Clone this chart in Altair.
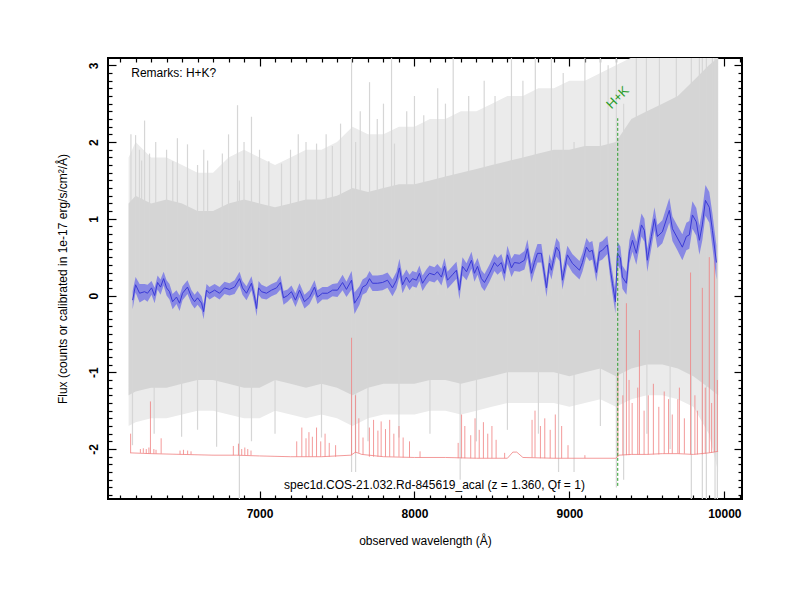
import altair as alt
import pandas as pd

# ---------------- data ----------------
# smoothed object spectrum (blue)
blue_wl = [6181, 6200, 6226, 6258, 6277, 6303, 6323, 6342, 6361, 6381, 6400, 6419, 6439, 6464, 6484,
           6503, 6535, 6561, 6581, 6600, 6626, 6639, 6658, 6677, 6710, 6742, 6774, 6806, 6839, 6871,
           6890, 6916, 6948, 6968, 6981, 6994, 7013, 7045, 7077, 7110, 7135, 7155, 7181, 7206, 7232,
           7258, 7290, 7323, 7355, 7374, 7406, 7439, 7471, 7503, 7536, 7561, 7594, 7613, 7645, 7665,
           7690, 7710, 7729, 7761, 7794, 7826, 7858, 7884, 7903, 7923, 7948, 7968, 7987, 8013, 8032,
           8052, 8077, 8097, 8129, 8148, 8174, 8194, 8213, 8245, 8271, 8290, 8310, 8336, 8368, 8387,
           8407, 8432, 8452, 8484, 8516, 8536, 8561, 8581, 8600, 8626, 8645, 8678, 8710, 8729, 8755,
           8774, 8794, 8819, 8852, 8871, 8884, 8897, 8916, 8936, 8955, 8987, 9019, 9065, 9084, 9110,
           9129, 9148, 9174, 9194, 9213, 9245, 9265, 9278, 9297, 9310, 9329, 9342, 9368, 9387, 9407,
           9432, 9465, 9484, 9503, 9529, 9549, 9568, 9600, 9645, 9665, 9697, 9729, 9755, 9774, 9794,
           9819, 9839, 9858, 9878, 9903, 9923, 9949]
blue_flux = [-0.06, 0.14, 0.03, 0.05, 0.03, 0.10, 0.00, 0.17, 0.11, 0.22, 0.10, 0.05, -0.08, -0.02, -0.10,
             0.03, 0.11, -0.02, -0.08, -0.03, -0.10, -0.21, 0.07, 0.03, 0.07, 0.03, 0.10, 0.08, 0.11, 0.22,
             0.10, 0.03, 0.16, -0.02, -0.17, 0.10, 0.05, 0.03, 0.07, 0.10, 0.17, -0.03, 0.00, 0.05, -0.06,
             0.07, -0.08, -0.02, 0.11, -0.02, 0.03, 0.03, 0.07, 0.07, 0.17, 0.08, 0.20, -0.10, 0.00, 0.11,
             0.14, 0.22, 0.16, 0.16, 0.17, 0.20, 0.10, 0.20, 0.36, 0.14, 0.24, 0.17, 0.22, 0.20, 0.29,
             0.16, 0.24, 0.29, 0.27, 0.31, 0.24, 0.38, 0.20, 0.27, 0.33, 0.07, 0.38, 0.31, 0.46, 0.29,
             0.38, 0.22, 0.17, 0.29, 0.43, 0.38, 0.43, 0.29, 0.53, 0.36, 0.43, 0.42, 0.46, 0.61, 0.29,
             0.43, 0.55, 0.55, 0.10, 0.42, 0.33, 0.46, 0.63, 0.57, 0.20, 0.53, 0.42, 0.33, 0.43, 0.63,
             0.57, 0.59, 0.30, 0.57, 0.59, 0.66, 0.33, 0.16, -0.08, 0.55, 0.49, 0.24, 0.16, 0.57, 0.72,
             0.55, 0.92, 0.85, 0.46, 0.77, 1.00, 0.77, 0.83, 1.11, 0.87, 0.75, 0.63, 0.77, 0.79, 1.05,
             0.96, 0.72, 0.92, 1.24, 1.15, 0.85, 0.43]
blue_err = [0.12, 0.10, 0.12, 0.10, 0.11, 0.09, 0.10, 0.09, 0.10, 0.09, 0.10, 0.10, 0.10, 0.09, 0.10,
            0.09, 0.09, 0.09, 0.09, 0.09, 0.09, 0.10, 0.08, 0.08, 0.08, 0.08, 0.08, 0.08, 0.09, 0.09,
            0.09, 0.09, 0.09, 0.10, 0.10, 0.09, 0.09, 0.08, 0.08, 0.08, 0.09, 0.09, 0.08, 0.08, 0.09,
            0.09, 0.09, 0.09, 0.09, 0.09, 0.08, 0.08, 0.08, 0.09, 0.10, 0.10, 0.12, 0.14, 0.12, 0.10,
            0.10, 0.10, 0.10, 0.10, 0.10, 0.10, 0.11, 0.11, 0.12, 0.11, 0.10, 0.10, 0.10, 0.10, 0.10,
            0.10, 0.10, 0.10, 0.10, 0.10, 0.11, 0.11, 0.11, 0.11, 0.11, 0.12, 0.12, 0.11, 0.11, 0.11,
            0.11, 0.11, 0.11, 0.11, 0.11, 0.11, 0.11, 0.11, 0.12, 0.12, 0.11, 0.11, 0.12, 0.12, 0.12,
            0.12, 0.12, 0.12, 0.12, 0.12, 0.12, 0.12, 0.12, 0.12, 0.12, 0.12, 0.12, 0.12, 0.12, 0.12,
            0.12, 0.12, 0.12, 0.12, 0.12, 0.12, 0.13, 0.14, 0.15, 0.15, 0.15, 0.15, 0.15, 0.15, 0.15,
            0.15, 0.15, 0.15, 0.15, 0.15, 0.15, 0.15, 0.15, 0.16, 0.16, 0.16, 0.17, 0.18, 0.18, 0.18,
            0.18, 0.19, 0.20, 0.20, 0.20, 0.22, 0.22]

# raw spectrum (grey): dense core and outer envelope
gray_wl = [6155, 6200, 6300, 6400, 6500, 6600, 6700, 6800, 6900, 7000, 7100, 7200, 7300, 7400, 7500,
           7600, 7700, 7800, 7900, 8000, 8100, 8200, 8300, 8400, 8500, 8600, 8700, 8800, 8900, 9000,
           9100, 9200, 9300, 9400, 9500, 9600, 9700, 9800, 9900, 9960]
core_hi = [1.2, 1.3, 1.2, 1.25, 1.2, 1.1, 1.1, 1.2, 1.25, 1.2, 1.15, 1.2, 1.25, 1.25, 1.3,
           1.4, 1.35, 1.4, 1.45, 1.45, 1.5, 1.55, 1.6, 1.65, 1.7, 1.75, 1.8, 1.85, 1.9, 1.9,
           1.95, 1.95, 2.0, 2.3, 2.4, 2.5, 2.6, 2.8, 3.0, 3.1]
core_lo = [-1.3, -1.25, -1.2, -1.2, -1.15, -1.1, -1.1, -1.15, -1.2, -1.2, -1.1, -1.15, -1.2, -1.15, -1.2,
           -1.3, -1.2, -1.15, -1.15, -1.15, -1.1, -1.1, -1.15, -1.1, -1.05, -1.0, -1.0, -1.0, -1.0, -1.05,
           -1.0, -0.95, -1.05, -0.95, -0.9, -0.9, -0.95, -1.05, -1.2, -1.3]
outer_hi = [1.8, 2.0, 1.8, 1.8, 1.7, 1.6, 1.6, 1.8, 1.9, 1.8, 1.7, 1.8, 1.9, 1.9, 2.0,
            2.2, 2.1, 2.1, 2.2, 2.2, 2.3, 2.3, 2.4, 2.4, 2.5, 2.6, 2.6, 2.7, 2.7, 2.8,
            2.8, 2.9, 3.0, 3.1, 3.1, 3.1, 3.1, 3.1, 3.1, 3.1]
outer_lo = [-1.7, -1.65, -1.6, -1.6, -1.55, -1.5, -1.5, -1.55, -1.6, -1.6, -1.5, -1.55, -1.6, -1.55, -1.6,
            -1.7, -1.6, -1.55, -1.55, -1.55, -1.5, -1.5, -1.55, -1.5, -1.45, -1.4, -1.4, -1.4, -1.4, -1.45,
            -1.4, -1.35, -1.45, -1.35, -1.3, -1.3, -1.35, -1.45, -1.8, -2.3]

# individual grey spikes of the raw spectrum (wavelength, bottom, top)
spike_wl = [6170, 6180, 6200, 6225, 6239, 6258, 6290, 6320, 6330, 6400, 6440, 6470, 6497, 6535, 6600,
            6640, 6665, 6723, 6760, 6800, 6858, 6870, 6900, 6948, 7000, 7060, 7100, 7142, 7200, 7250,
            7300, 7368, 7400, 7430, 7470, 7523, 7594, 7620, 7650, 7700, 7710, 7760, 7800, 7852, 7871,
            7900, 7950, 8000, 8060, 8100, 8150, 8200, 8250, 8295, 8350, 8400, 8450, 8520, 8600, 8626,
            8700, 8780, 8800, 8884, 8930, 8960, 9030, 9100, 9200, 9250, 9303, 9350, 9432, 9497, 9500,
            9581, 9650, 9690, 9787, 9839, 9858, 9884, 9923, 9940, 9955]
spike_lo = [0.0, -1.95, 0.0, 0.0, 0.0, 0.0, 0.0, -1.8, 0.0, 0.0, 0.0, 0.0, -1.84, 0.0, -1.75,
            0.0, 0.0, -1.97, 0.0, 0.0, 0.0, -2.65, 0.0, -1.9, 0.0, 0.0, -1.8, 0.0, 0.0, 0.0,
            0.0, 0.0, -1.85, 0.0, 0.0, 0.0, -2.3, -2.3, 0.0, -1.9, 0.0, 0.0, 0.0, 0.0, 0.0,
            -1.85, 0.0, 0.0, 0.0, -1.8, 0.0, 0.0, 0.0, -2.4, 0.0, -1.9, 0.0, 0.0, -1.75, 0.0,
            0.0, 0.0, -1.8, 0.0, -2.3, 0.0, -2.3, 0.0, -1.7, 0.0, -2.5, -2.4, 0.0, 0.0, -1.8,
            0.0, -2.0, 0.0, -2.65, 0.0, -2.65, -2.65, 0.0, -2.65, -2.65]
spike_hi = [2.1, 0.0, 2.09, 1.9, 1.76, 2.28, 1.85, 0.0, 2.0, 1.9, 1.75, 2.05, 0.0, 1.97, 1.7,
            1.9, 1.76, 0.0, 1.85, 2.1, 2.48, 1.5, 2.0, 2.33, 1.9, 1.75, 0.0, 1.72, 1.9, 2.1,
            2.0, 1.98, 0.0, 2.1, 1.95, 2.24, 3.1, 2.0, 2.4, 0.0, 2.78, 2.3, 2.5, 3.1, 1.98,
            0.0, 2.4, 2.6, 2.35, 0.0, 2.7, 2.5, 3.1, 1.5, 2.6, 0.0, 2.8, 2.6, 0.0, 3.1,
            2.8, 3.1, 0.0, 3.1, 1.8, 2.9, 2.0, 3.1, 3.1, 3.0, 3.1, 2.5, 3.1, 3.1, 0.0,
            3.1, 0.0, 3.1, 3.1, 3.1, 3.1, 3.1, 3.1, 3.1, 3.1]

# sky spectrum (red): continuum and emission lines
sky_cont_wl = [6165, 6300, 6500, 6700, 6850, 7000, 7200, 7400, 7590, 7620, 7660, 7800, 8000, 8200,
               8400, 8600, 8635, 8660, 8700, 8900, 9100, 9300, 9320, 9400, 9500, 9600, 9700, 9800,
               9900, 9960]
sky_cont_flux = [-2.05, -2.06, -2.07, -2.08, -2.08, -2.09, -2.10, -2.10, -2.08, -2.04, -2.07, -2.10, -2.11,
                 -2.11, -2.12, -2.12, -2.04, -2.04, -2.11, -2.12, -2.12, -2.12, -2.08, -2.07, -2.07,
                 -2.06, -2.06, -2.07, -2.05, -2.03]
sky_line_wl = [6168, 6231, 6250, 6269, 6286, 6296, 6318, 6332, 6365, 6487, 6509, 6536, 6558, 6831, 6864,
               6885, 6905, 6924, 6945, 7240, 7273, 7300, 7319, 7341, 7368, 7395, 7423, 7450, 7491, 7594,
               7619, 7641, 7668, 7709, 7736, 7764, 7785, 7813, 7840, 7867, 7900, 7927, 7968, 8036, 8282,
               8304, 8325, 8363, 8391, 8418, 8445, 8473, 8500, 8527, 8582, 8759, 8778, 8813, 8841, 8876,
               8909, 8950, 8991, 9100, 9313, 9345, 9368, 9385, 9405, 9441, 9452, 9482, 9509, 9542, 9577,
               9612, 9640, 9664, 9700, 9710, 9742, 9782, 9810, 9826, 9858, 9877, 9903, 9918, 9936, 9955]
sky_line_peak = [-1.80, -2.00, -1.99, -2.00, -1.98, -1.38, -2.00, -2.01, -1.86, -2.02, -2.01, -2.02, -2.03,
                 -1.96, -1.93, -2.00, -1.98, -2.00, -2.02, -1.90, -1.72, -1.86, -1.78, -1.84, -1.72, -1.90,
                 -1.80, -1.92, -1.95, -0.55, -1.30, -1.60, -1.85, -1.72, -1.62, -1.76, -1.64, -1.74, -1.62,
                 -1.80, -1.70, -1.85, -1.90, -2.03, -1.92, -1.55, -1.70, -1.82, -1.60, -1.75, -1.65, -1.80,
                 -1.70, -1.88, -2.05, -1.62, -1.50, -1.70, -1.60, -1.75, -1.55, -1.70, -1.95, -2.08, -1.00,
                 -1.30, -0.10, -1.10, -1.40, -1.20, -0.45, -1.50, -1.30, -1.15, -1.45, -1.25, -1.35, -1.55,
                 -1.35, -1.20, -1.60, 0.30, -1.30, -1.50, 0.10, -1.20, 0.50, -1.40, 0.60, -1.10]
sky_line_base = [-2.05, -2.05, -2.05, -2.06, -2.06, -2.06, -2.06, -2.06, -2.06, -2.07, -2.07, -2.07, -2.07,
                 -2.08, -2.08, -2.08, -2.08, -2.08, -2.08, -2.10, -2.10, -2.10, -2.10, -2.10, -2.10, -2.10,
                 -2.10, -2.10, -2.10, -2.08, -2.05, -2.05, -2.07, -2.10, -2.10, -2.10, -2.10, -2.10, -2.10,
                 -2.10, -2.10, -2.11, -2.11, -2.11, -2.12, -2.12, -2.12, -2.12, -2.12, -2.12, -2.12, -2.12,
                 -2.12, -2.12, -2.12, -2.11, -2.11, -2.12, -2.12, -2.12, -2.12, -2.12, -2.12, -2.12, -2.10,
                 -2.08, -2.08, -2.08, -2.07, -2.07, -2.07, -2.07, -2.07, -2.07, -2.07, -2.06, -2.06, -2.06,
                 -2.06, -2.06, -2.06, -2.07, -2.07, -2.07, -2.07, -2.06, -2.05, -2.05, -2.04, -2.03]

hk_wl = [9312]
hk_lo = [-2.48]
hk_hi = [2.31]
hk_label_y = [2.58]

remarks_text = ["Remarks: H+K?"]
caption_text = ["spec1d.COS-21.032.Rd-845619_acal (z = 1.360, Qf = 1)"]

x_major = [7000, 8000, 9000, 10000]
y_major = [-2, -1, 0, 1, 2, 3]
x_minor = list(range(6100, 10101, 100))
y_minor = [round(-2.6 + 0.1 * i, 1) for i in range(57)]

# ---------------- tables ----------------
blue_df = pd.DataFrame({"wl": blue_wl, "flux": blue_flux,
                        "lo": [f - e for f, e in zip(blue_flux, blue_err)],
                        "hi": [f + e for f, e in zip(blue_flux, blue_err)]})
gray_df = pd.DataFrame({"wl": gray_wl, "clo": core_lo, "chi": core_hi, "olo": outer_lo, "ohi": outer_hi})
spike_df = pd.DataFrame({"wl": spike_wl, "lo": spike_lo, "hi": spike_hi})
skyc_df = pd.DataFrame({"wl": sky_cont_wl, "flux": sky_cont_flux})
skyl_df = pd.DataFrame({"wl": sky_line_wl, "peak": sky_line_peak, "base": sky_line_base})
hk_df = pd.DataFrame({"wl": hk_wl, "lo": hk_lo, "hi": hk_hi, "ly": hk_label_y, "t": ["H+K"]})
rem_df = pd.DataFrame({"wl": [6172], "y": [2.90], "t": remarks_text})
cap_df = pd.DataFrame({"wl": [8129], "y": [-2.47], "t": caption_text})

# ---------------- scales & axes ----------------
W, H = 634, 441
xs = alt.Scale(domain=[6022, 10114], nice=False, zero=False)
ys = alt.Scale(domain=[-2.651, 3.095], nice=False, zero=False)
FONT = "Liberation Sans"

x_tick_size = {"condition": {"test": "abs(datum.value - round(datum.value / 1000) * 1000) < 1", "value": 8}, "value": 4}
y_tick_size = {"condition": {"test": "abs(datum.value - round(datum.value)) < 0.001", "value": 8}, "value": 4}

ax_x_lab = alt.Axis(orient="bottom", values=x_major, ticks=False, domain=False, grid=False,
                    format="d", labelFont=FONT, labelFontSize=12, labelFontWeight="bold",
                    labelColor="black", labelPadding=9, labelFlush=False,
                    title="observed wavelength (Å)", titleFont=FONT, titleFontSize=12,
                    titleFontWeight="normal", titleColor="black", titleY=41, titleBaseline="middle")
ax_y_lab = alt.Axis(orient="left", values=y_major, ticks=False, domain=False, grid=False,
                    labelExpr="'' + datum.value", labelFont=FONT, labelFontSize=12,
                    labelFontWeight="bold", labelColor="black", labelAngle=270,
                    labelAlign="center", labelBaseline="bottom", labelPadding=8, labelFlush=False,
                    title="Flux (counts or calibrated in 1e-17 erg/s/cm²/Å)", titleFont=FONT,
                    titleFontSize=12, titleFontWeight="normal", titleColor="black",
                    titleX=-46, titleY=H / 2, titleAngle=270, titleAlign="center",
                    titleBaseline="middle")
# inward ticks on all four sides
ax_x_bottom_ticks = alt.Axis(orient="top", offset=-H, values=x_minor, labels=False, domain=False,
                             grid=False, title=None, tickSize=x_tick_size, tickColor="black", tickWidth=1.2)
ax_x_top_ticks = alt.Axis(orient="bottom", offset=-H, values=x_minor, labels=False, domain=False,
                          grid=False, title=None, tickSize=x_tick_size, tickColor="black", tickWidth=1.2)
ax_y_left_ticks = alt.Axis(orient="right", offset=-W, values=y_minor, labels=False, domain=False,
                           grid=False, title=None, tickSize=y_tick_size, tickColor="black", tickWidth=1.2)
ax_y_right_ticks = alt.Axis(orient="left", offset=-W, values=y_minor, labels=False, domain=False,
                            grid=False, title=None, tickSize=y_tick_size, tickColor="black", tickWidth=1.2)

# ---------------- layers ----------------
outer = alt.Chart(gray_df).mark_area(color="#ebebeb", clip=True).encode(
    x=alt.X("wl:Q", scale=xs, axis=ax_x_lab),
    y=alt.Y("olo:Q", scale=ys, axis=ax_y_lab), y2="ohi:Q")
core = alt.Chart(gray_df).mark_area(color="#d5d5d5", clip=True).encode(
    x=alt.X("wl:Q", scale=xs, axis=ax_x_bottom_ticks),
    y=alt.Y("clo:Q", scale=ys, axis=ax_y_left_ticks), y2="chi:Q")
spikes = alt.Chart(spike_df).mark_rule(color="#d6d6d6", strokeWidth=1.2, clip=True).encode(
    x=alt.X("wl:Q", scale=xs, axis=ax_x_top_ticks),
    y=alt.Y("lo:Q", scale=ys, axis=ax_y_right_ticks), y2="hi:Q")
sky_cont = alt.Chart(skyc_df).mark_line(color="#f08080", strokeWidth=0.8, clip=True).encode(
    x=alt.X("wl:Q", scale=xs, axis=None), y=alt.Y("flux:Q", scale=ys, axis=None))
sky_lines = alt.Chart(skyl_df).mark_rule(color="#f08080", strokeWidth=0.8, clip=True).encode(
    x=alt.X("wl:Q", scale=xs, axis=None), y=alt.Y("peak:Q", scale=ys, axis=None), y2="base:Q")
band = alt.Chart(blue_df).mark_area(color="#7f7fe6", opacity=0.9, clip=True).encode(
    x=alt.X("wl:Q", scale=xs, axis=None), y=alt.Y("lo:Q", scale=ys, axis=None), y2="hi:Q")
line = alt.Chart(blue_df).mark_line(color="#3a3ad6", strokeWidth=1, clip=True).encode(
    x=alt.X("wl:Q", scale=xs, axis=None), y=alt.Y("flux:Q", scale=ys, axis=None))
hk_rule = alt.Chart(hk_df).mark_rule(color="#2a9d2a", strokeDash=[3, 2], strokeWidth=1).encode(
    x=alt.X("wl:Q", scale=xs, axis=None), y=alt.Y("lo:Q", scale=ys, axis=None), y2="hi:Q")
hk_text = alt.Chart(hk_df).mark_text(color="#2a9d2a", font=FONT, fontSize=13, angle=315,
                                     align="center", baseline="middle").encode(
    x=alt.X("wl:Q", scale=xs, axis=None), y=alt.Y("ly:Q", scale=ys, axis=None), text="t:N")
rem = alt.Chart(rem_df).mark_text(color="black", font=FONT, fontSize=12, align="left",
                                  baseline="middle").encode(
    x=alt.X("wl:Q", scale=xs, axis=None), y=alt.Y("y:Q", scale=ys, axis=None), text="t:N")
cap = alt.Chart(cap_df).mark_text(color="black", font=FONT, fontSize=12, align="center",
                                  baseline="middle").encode(
    x=alt.X("wl:Q", scale=xs, axis=None), y=alt.Y("y:Q", scale=ys, axis=None), text="t:N")

chart = alt.layer(outer, core, spikes, sky_cont, sky_lines, band, line, hk_rule, hk_text, rem, cap
                  ).resolve_axis(x="independent", y="independent").properties(
    width=W, height=H,
    autosize=alt.AutoSizeParams(type="none"),
    padding={"left": 100, "top": 50, "right": 50, "bottom": 92},
    background="white",
).configure_view(stroke="black", strokeWidth=2).configure_axis(grid=False)

chart.save("out.html", embed_options={"renderer": "svg", "actions": False})
